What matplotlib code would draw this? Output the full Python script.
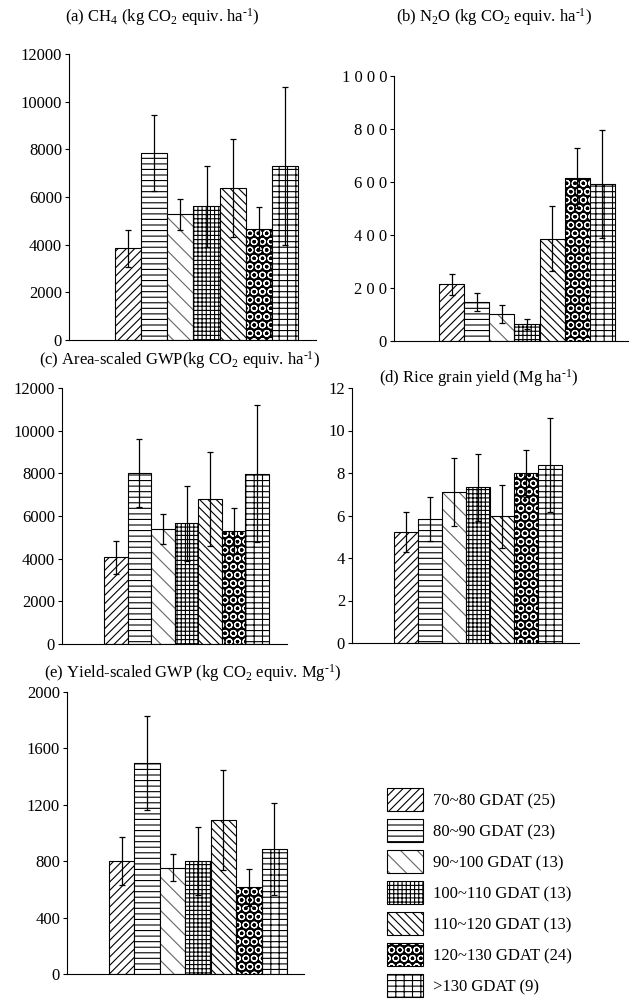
import numpy as np
import matplotlib
matplotlib.use("Agg")
import matplotlib.pyplot as plt

plt.rcParams['font.family'] = ['Liberation Serif', 'DejaVu Serif']
plt.rcParams['mathtext.fontset'] = 'custom'
plt.rcParams['mathtext.rm'] = 'Liberation Serif'
plt.rcParams['mathtext.default'] = 'regular'
plt.rcParams['hatch.linewidth'] = 0.8

# groups (growing degree accumulated temperature) and sample sizes
groups = ['70~80 GDAT (25)', '80~90 GDAT (23)', '90~100 GDAT (13)', '100~110 GDAT (13)',
          '110~120 GDAT (13)', '120~130 GDAT (24)', '>130 GDAT (9)']

# (a) CH4
ch4_mean = [3850, 7850, 5270, 5620, 6380, 4660, 7300]
ch4_err = [770, 1600, 660, 1700, 2040, 900, 3310]
# (b) N2O
n2o_mean = [214, 147, 102, 63, 386, 614, 592]
n2o_err = [40, 34, 33, 19, 122, 113, 204]
# (c) area-scaled GWP
gwp_mean = [4060, 8020, 5400, 5660, 6790, 5300, 7980]
gwp_err = [780, 1610, 690, 1750, 2210, 1080, 3220]
# (d) rice grain yield
yield_mean = [5.22, 5.83, 7.10, 7.32, 5.97, 7.98, 8.37]
yield_err = [0.96, 1.03, 1.60, 1.57, 1.48, 1.12, 2.21]
# (e) yield-scaled GWP
ygwp_mean = [800, 1495, 755, 800, 1095, 615, 885]
ygwp_err = [170, 335, 95, 240, 355, 130, 325]

ticks_ab = [0, 2000, 4000, 6000, 8000, 10000, 12000]
ticks_n2o = [0, 200, 400, 600, 800, 1000]
labels_n2o = ['0', '2 0 0', '4 0 0', '6 0 0', '8 0 0', '1 0 0 0']
ticks_yield = [0, 2, 4, 6, 8, 10, 12]
ticks_ygwp = [0, 400, 800, 1200, 1600, 2000]

# bar styles
hatches = ['////', '---', '\\\\', '++++', '\\\\\\\\', 'OO', '---||']
faces = ['white', 'white', 'white', 'white', 'white', 'black', 'white']
hatch_colors = ['black', 'black', '#666666', 'black', 'black', 'white', 'black']

W, H = 633, 1000
fig = plt.figure(figsize=(W / 100, H / 100), dpi=100)


def panel(left, right, top, bottom, bar_left, bar_right, means, errs, ticks, labels=None):
    # pixel box -> figure fraction
    ax = fig.add_axes([left / W, 1 - bottom / H, (right - left) / W, (bottom - top) / H])
    x = np.arange(len(means))
    unit = (bar_right - bar_left) / len(means)
    handles = []
    for i in range(len(means)):
        f = ax.bar(x[i], means[i], width=1, facecolor=faces[i], edgecolor=hatch_colors[i],
                   hatch=hatches[i], linewidth=0)
        e = ax.bar(x[i], means[i], width=1, fill=False, edgecolor='black', linewidth=0.8)
        handles.append((f.patches[0], e.patches[0]))
    ax.errorbar(x, means, yerr=errs, fmt='none', ecolor='black', elinewidth=0.9,
                capsize=2.2, capthick=0.9)
    ax.set_xlim(-0.5 - (bar_left - left) / unit, len(means) - 0.5 + (right - bar_right) / unit)
    ax.set_ylim(0, ticks[-1])
    ax.set_yticks(ticks)
    if labels is not None:
        ax.set_yticklabels(labels)
    for s in ['top', 'right']:
        ax.spines[s].set_visible(False)
    ax.spines['left'].set_linewidth(0.8)
    ax.spines['bottom'].set_linewidth(0.8)
    ax.tick_params(axis='x', length=0, labelbottom=False)
    ax.tick_params(axis='y', direction='out', length=3, width=0.8, labelsize=12, pad=2)
    return ax, handles


panel(69, 316, 54, 340, 115, 298, ch4_mean, ch4_err, ticks_ab)
panel(394, 628, 76, 341, 439, 615, n2o_mean, n2o_err, ticks_n2o, labels_n2o)
panel(62, 287, 388, 644, 104, 269, gwp_mean, gwp_err, ticks_ab)
panel(352, 579, 388, 643, 394, 562, yield_mean, yield_err, ticks_yield)
ax_e, handles = panel(67, 304, 692, 974, 109, 287, ygwp_mean, ygwp_err, ticks_ygwp)

titles = [
    (162, 17, r'(a) CH$_4$ (kg CO$_2$ equiv. ha$^{\text{-}1}$)'),
    (494, 17, r'(b) N$_2$O (kg CO$_2$ equiv. ha$^{\text{-}1}$)'),
    (180, 360, r'(c) Area-scaled GWP(kg CO$_2$ equiv. ha$^{\text{-}1}$)'),
    (479, 378, r'(d) Rice grain yield (Mg ha$^{\text{-}1}$)'),
    (193, 673, r'(e) Yield-scaled GWP (kg CO$_2$ equiv. Mg$^{\text{-}1}$)'),
]
for tx, ty, t in titles:
    fig.text(tx / W, 1 - ty / H, t, ha='center', va='center', fontsize=12)

ax_e.legend(handles, groups, loc='upper left', bbox_to_anchor=(387 / W, 1 - 788 / H),
            bbox_transform=fig.transFigure, frameon=False, fontsize=12,
            handlelength=2.16, handleheight=1.75, labelspacing=0.48, handletextpad=0.6,
            borderpad=0, borderaxespad=0)

fig.savefig('out.png', dpi=100)
